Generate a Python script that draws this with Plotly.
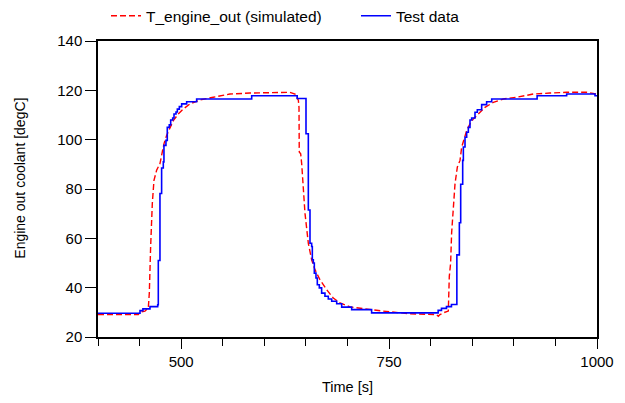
import plotly.graph_objects as go

# Simulated engine-out coolant temperature (red dashed)
sim_time = [400, 448.5, 450.5, 456.5, 460.5, 461.7, 463.3, 465.3, 467.3, 470.5, 474.5, 476.5,
            479.3, 482.5, 486.5, 490.5, 496.5, 502.5, 510.5, 522.5, 538.6, 558.6, 582.6,
            606.7, 630.7, 636.9, 640.9, 641.7, 642.0, 643.7, 644.9, 648.9, 652.9, 656.9,
            660.9, 666.9, 674.9, 682.9, 691, 703, 719, 743, 775, 807, 809.2, 811.2, 815.2,
            821.2, 822.4, 824, 825.2, 827.3, 829.3, 832.1, 835.3, 837.3, 840.1, 843.3,
            847.3, 851.3, 857.3, 865.3, 875.3, 887.4, 903.4, 923.4, 943.5, 963.5, 987.6, 1000]
sim_temp = [29.1, 29.1, 30.1, 30.5, 31.8, 37.8, 56.7, 74.1, 83.5, 87.6, 90.3, 93.6,
            98.3, 101.7, 105.0, 107.7, 110.4, 112.4, 114.5, 116.1, 117.2, 118.5, 118.9,
            119.2, 119.2, 118.5, 116.0, 113.1, 95.0, 94.3, 90.3, 70.1, 58.0, 51.3,
            47.3, 43.2, 39.2, 35.8, 33.8, 32.2, 31.4, 30.5, 29.4, 29.1, 28.4, 29.1, 29.8,
            30.5, 44.6, 50.0, 62.1, 74.1, 82.2, 88.9, 91.6, 97.0, 99.7, 103.7,
            106.4, 108.4, 110.4, 113.1, 115.1, 116.5, 117.2, 118.5, 118.9, 119.2, 119.2, 118.5]

# Measured test data (blue, sampled/held)
test_time = [400, 450.5, 454, 462.5, 471.8, 472.5, 474.5, 476.5, 478.5, 479.3, 481.7, 483.3,
             485.7, 487.4, 489.8, 491.4, 493.8, 495.4, 497.8, 500.6, 506.6, 518.6, 584.8,
             639.5, 650.1, 652.9, 654.9, 656.9, 657.7, 658.9, 660.1, 662.1, 663.7, 666.1,
             668.9, 672.9, 676.9, 681, 687, 693, 705, 729, 809, 813, 819, 825, 831.5,
             834.5, 836.1, 838.5, 839.3, 841.3, 843.3, 845.3, 847.3, 849.3, 853.3, 856.1,
             861.3, 867.3, 873.4, 928, 963.5, 997.6, 1000]
test_temp = [29.6, 30.7, 31.4, 32.3, 33.1, 51.0, 78.2, 88.5, 91.0, 97.7, 99.7, 105.0,
             106.0, 108.0, 108.8, 110.4, 111.2, 112.4, 113.4, 114.5, 115.4, 116.5, 117.8,
             116.7, 102.4, 71.5, 58.0, 56.7, 51.3, 50.0, 45.9, 43.9, 41.2, 39.9,
             37.8, 36.5, 35.4, 34.5, 33.5, 32.1, 31.1, 29.8, 30.8, 31.6, 32.3, 33.2, 53.3,
             66.3, 81.9, 91.6, 97.0, 101.0, 103.0, 105.0, 108.0, 108.8, 111.1, 112.1,
             114.2, 115.4, 116.5, 117.8, 118.5, 117.8, 117.8]

x_ticks = [500, 750, 1000]
y_ticks = [20, 40, 60, 80, 100, 120, 140]

fig = go.Figure()
fig.add_trace(go.Scatter(x=sim_time, y=sim_temp, mode="lines", name="T_engine_out (simulated)",
                         line=dict(color="#ff0000", width=1.4, dash="6px,3px")))
fig.add_trace(go.Scatter(x=test_time, y=test_temp, mode="lines", name="Test data",
                         line=dict(color="#0000ff", width=1.6, shape="hv")))

# page body has an 8px default margin, so the figure is sized to fit the 625x403 window
font = dict(family="Liberation Sans, Arial, sans-serif", size=15, color="#000000")
fig.update_layout(
    width=617, height=395,
    margin=dict(l=90, r=28, t=33, b=66, autoexpand=False),
    paper_bgcolor="white", plot_bgcolor="white",
    font=font,
    showlegend=True,
    legend=dict(orientation="h", x=0.016, xanchor="left", y=1.084, yanchor="middle",
                font=dict(size=15.5), bgcolor="rgba(0,0,0,0)",
                entrywidth=205, entrywidthmode="pixels"),
    xaxis=dict(range=[400, 1000], tickvals=x_ticks, ticks="outside", ticklen=10, tickwidth=1.3,
               tickcolor="#000", showline=True, linecolor="#000", linewidth=1.5, mirror=True,
               showgrid=False, zeroline=False, automargin=False,
               minor=dict(dtick=50, tick0=0, ticks="outside", ticklen=7, tickcolor="#000", tickwidth=1.3, showgrid=False),
               title=dict(text="Time [s]", standoff=13, font=dict(size=14.5))),
    yaxis=dict(range=[20, 140], tickvals=y_ticks, ticks="outside", ticklen=11, tickwidth=1.3,
               tickcolor="#000", showline=True, linecolor="#000", linewidth=1.5, mirror=True,
               showgrid=False, zeroline=False, automargin=False),
    annotations=[dict(text="Engine out coolant [degC]", textangle=-90, showarrow=False,
                      xref="paper", yref="paper", x=-0.157, y=0.537,
                      xanchor="center", yanchor="middle", font=dict(size=14))],
)
fig.write_html("out.html")
